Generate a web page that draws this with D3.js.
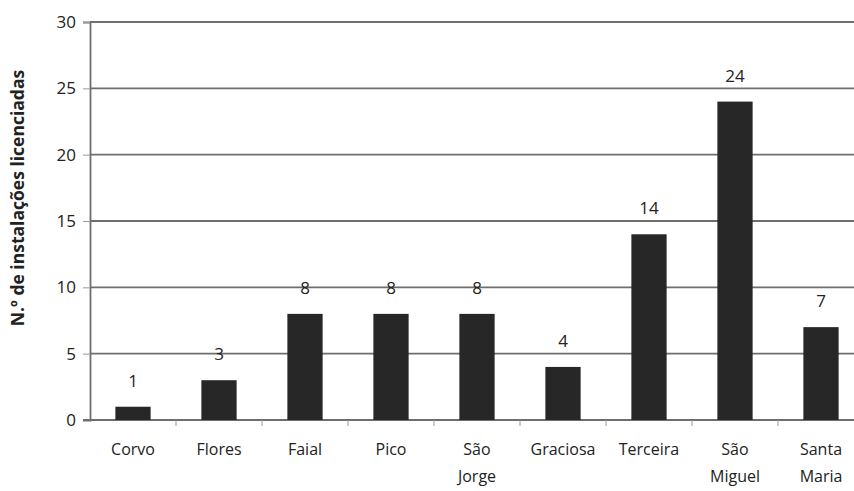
<!DOCTYPE html>
<html lang="pt">
<head>
    <meta charset="UTF-8">
    <title>Instalações licenciadas</title>
    <script src="https://cdn.jsdelivr.net/npm/d3@7"></script>
    <style>
        body { margin: 0; background: #fff; }
        * { font-family: 'Open Sans', sans-serif; }
    </style>
</head>
<body>
<script>
    const islands = ["Corvo", "Flores", "Faial", "Pico", "São Jorge", "Graciosa", "Terceira", "São Miguel", "Santa Maria"];
    const islandLines = [["Corvo"], ["Flores"], ["Faial"], ["Pico"], ["São", "Jorge"], ["Graciosa"], ["Terceira"], ["São", "Miguel"], ["Santa", "Maria"]];
    const installs = [1, 3, 8, 8, 8, 4, 14, 24, 7];
    const yTicks = [0, 5, 10, 15, 20, 25, 30];

    const W = 854, H = 491;
    const mLeft = 90, mRight = 864, mTop = 22, mBottom = 420;

    const svg = d3.select("body").append("svg").attr("width", W).attr("height", H);

    const x = d3.scaleBand().domain(islands).range([mLeft, mRight]).paddingInner(0.59).paddingOuter(0.295);
    const y = d3.scaleLinear().domain([0, 30]).range([mBottom, mTop]);

    // gridlines
    svg.append("g").selectAll("line")
        .data(yTicks.filter(d => d > 0))
        .join("line")
        .attr("x1", mLeft).attr("x2", W)
        .attr("y1", d => y(d)).attr("y2", d => y(d))
        .attr("stroke", "#6e6e6e").attr("stroke-width", 1.8);

    // y axis
    const yAxis = svg.append("g")
        .attr("transform", `translate(${mLeft},0)`)
        .call(d3.axisLeft(y).tickValues(yTicks).tickSize(7).tickPadding(7));
    yAxis.select(".domain").attr("stroke", "#6e6e6e").attr("stroke-width", 1.8);
    yAxis.selectAll(".tick line").attr("stroke", "#999");
    yAxis.selectAll("text").attr("font-size", 17).attr("fill", "#222")
        .attr("font-family", "'Open Sans', sans-serif");

    // x axis baseline + category ticks
    const step = x.step();
    const edges = d3.range(islands.length + 1).map(i => mLeft + i * step);
    svg.append("line")
        .attr("x1", mLeft - 7).attr("x2", W)
        .attr("y1", mBottom).attr("y2", mBottom)
        .attr("stroke", "#6e6e6e").attr("stroke-width", 1.8);
    svg.append("g").selectAll("line")
        .data(edges.slice(1))
        .join("line")
        .attr("x1", d => d).attr("x2", d => d)
        .attr("y1", mBottom).attr("y2", mBottom + 6)
        .attr("stroke", "#999");

    // bars
    svg.append("g").selectAll("rect")
        .data(installs)
        .join("rect")
        .attr("x", (d, i) => x(islands[i]))
        .attr("y", d => y(d))
        .attr("width", x.bandwidth())
        .attr("height", d => y(0) - y(d))
        .attr("fill", "#272727");

    // value labels
    svg.append("g").selectAll("text")
        .data(installs)
        .join("text")
        .attr("x", (d, i) => x(islands[i]) + x.bandwidth() / 2)
        .attr("y", d => y(d) - 20)
        .attr("text-anchor", "middle")
        .attr("font-size", 17)
        .attr("fill", "#222")
        .text(d => d);

    // category labels
    const cat = svg.append("g").selectAll("text")
        .data(islandLines)
        .join("text")
        .attr("x", (d, i) => x(islands[i]) + x.bandwidth() / 2)
        .attr("y", 455)
        .attr("text-anchor", "middle")
        .attr("font-size", 16)
        .attr("fill", "#222");
    cat.selectAll("tspan")
        .data(d => d)
        .join("tspan")
        .attr("x", function () { return this.parentNode.getAttribute("x"); })
        .attr("dy", (d, i) => i === 0 ? 0 : 27)
        .text(d => d);

    // y title
    svg.append("text")
        .attr("transform", `translate(24,198) rotate(-90)`)
        .attr("text-anchor", "middle")
        .attr("font-size", 17.5)
        .attr("font-weight", "bold")
        .attr("fill", "#222")
        .text("N.º de instalações licenciadas");
</script>
</body>
</html>
